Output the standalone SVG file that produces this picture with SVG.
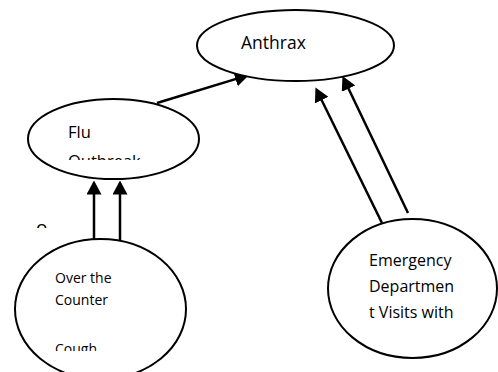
<svg xmlns="http://www.w3.org/2000/svg" width="498" height="372" viewBox="0 0 498 372">
<style>
.node{fill:#fff;stroke:#000;stroke-width:2}
.lbl{font-family:"Open Sans","Liberation Sans",sans-serif;fill:#000}
.edge{stroke:#000;stroke-width:2.5;fill:none;marker-end:url(#ah)}
</style>
<defs>
<marker id="ah" markerUnits="userSpaceOnUse" markerWidth="14" markerHeight="15" refX="11" refY="7.5" orient="auto">
<path d="M0,0 L14,7.5 L0,15 z" fill="#000"/>
</marker>
<clipPath id="clipFlu"><rect x="0" y="0" width="498" height="160"/></clipPath>
<clipPath id="clipOtc"><rect x="0" y="0" width="498" height="351"/></clipPath>
<clipPath id="clipO"><rect x="0" y="0" width="498" height="228"/></clipPath>
</defs>
<rect width="498" height="372" fill="#fff"/>
<g id="connectors">
<path class="edge" d="M157,103 L246.1,75.9"/>
<path class="edge" d="M382,223 L316.8,90.2"/>
<path class="edge" d="M408,213 L343.8,78.7"/>
<path class="edge" d="M94,240 L94,183.5"/>
<path class="edge" d="M120,240 L120,183.5"/>
</g>
<g id="anthrax">
<ellipse class="node" cx="295.5" cy="45.5" rx="98.5" ry="35.5"/>
<text class="lbl" x="241" y="49" font-size="17.5">Anthrax</text>
</g>
<g id="flu">
<ellipse class="node" cx="113.5" cy="139" rx="85.5" ry="40"/>
<text class="lbl" x="68" y="138" font-size="16.5">Flu</text>
<text class="lbl" x="68" y="167" font-size="16.5" clip-path="url(#clipFlu)">Outbreak</text>
</g>
<g id="fragment">
<text class="lbl" x="36" y="234" font-size="19" clip-path="url(#clipO)">o</text>
</g>
<g id="otc">
<ellipse class="node" cx="100.5" cy="309" rx="85.5" ry="70"/>
<text class="lbl" x="55" y="283" font-size="14">Over the</text>
<text class="lbl" x="55" y="305" font-size="14">Counter</text>
<text class="lbl" x="55" y="354" font-size="14" clip-path="url(#clipOtc)">Cough</text>
</g>
<g id="emergency">
<ellipse class="node" cx="412.5" cy="288.5" rx="84.5" ry="69.5"/>
<text class="lbl" x="369" y="266" font-size="16">Emergency</text>
<text class="lbl" x="369" y="292" font-size="16">Departmen</text>
<text class="lbl" x="369" y="318" font-size="16">t Visits with</text>
</g>
</svg>
